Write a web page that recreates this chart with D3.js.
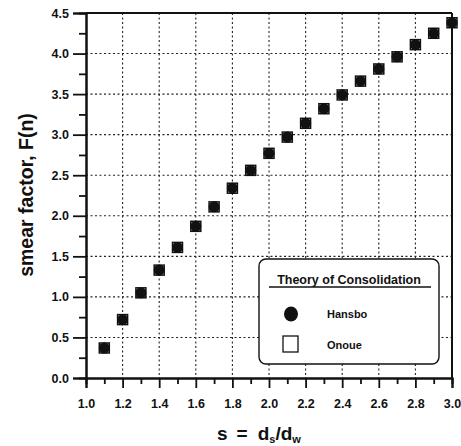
<!DOCTYPE html>
<html>
<head>
<meta charset="utf-8">
<script src="https://cdn.jsdelivr.net/npm/d3@7"></script>
<style>
  html, body { margin: 0; padding: 0; background: #fff; }
  svg { display: block; }
  text { font-family: "Liberation Sans", Arial, sans-serif; font-weight: bold; fill: #111; }
</style>
</head>
<body>
<svg id="chart" width="461" height="446"></svg>
<script>
// Ratio of smear zone to drain diameter, s = ds/dw
const sRatio = [1.1, 1.2, 1.3, 1.4, 1.5, 1.6, 1.7, 1.8, 1.9, 2.0,
                2.1, 2.2, 2.3, 2.4, 2.5, 2.6, 2.7, 2.8, 2.9, 3.0];
// Smear factor F(n) by Hansbo's theory
const hansbo = [0.37, 0.72, 1.05, 1.33, 1.61, 1.87, 2.11, 2.34, 2.56, 2.77,
                2.97, 3.14, 3.32, 3.49, 3.66, 3.81, 3.96, 4.11, 4.25, 4.38];
// Smear factor F(n) by Onoue's theory
const onoue = [0.37, 0.72, 1.05, 1.33, 1.61, 1.87, 2.11, 2.34, 2.56, 2.77,
               2.97, 3.14, 3.32, 3.49, 3.66, 3.81, 3.96, 4.11, 4.25, 4.38];

const xTicks = [1.0, 1.2, 1.4, 1.6, 1.8, 2.0, 2.2, 2.4, 2.6, 2.8, 3.0];
const xMinor = [1.1, 1.3, 1.5, 1.7, 1.9, 2.1, 2.3, 2.5, 2.7, 2.9];
const yTicks = [0.0, 0.5, 1.0, 1.5, 2.0, 2.5, 3.0, 3.5, 4.0, 4.5];
const yMinor = [0.25, 0.75, 1.25, 1.75, 2.25, 2.75, 3.25, 3.75, 4.25];

const svg = d3.select("#chart");
const plotL = 86, plotR = 452, plotT = 13, plotB = 378;

const x = d3.scaleLinear().domain([1.0, 3.0]).range([plotL, plotR]);
const y = d3.scaleLinear().domain([0, 4.5]).range([plotB, plotT]);

// dotted grid
const grid = svg.append("g").attr("stroke", "#222").attr("stroke-width", 1.1)
  .attr("stroke-dasharray", "2,2.5");
grid.selectAll("line.v").data(xTicks.slice(1, -1)).join("line")
  .attr("x1", d => x(d)).attr("x2", d => x(d)).attr("y1", plotT).attr("y2", plotB);
grid.selectAll("line.h").data(yTicks.slice(1, -1)).join("line")
  .attr("x1", plotL).attr("x2", plotR).attr("y1", d => y(d)).attr("y2", d => y(d));

// axes
const fmt = d3.format(".1f");
const xAxis = svg.append("g").attr("transform", `translate(0,${plotB})`)
  .call(d3.axisBottom(x).tickValues(xTicks).tickFormat(fmt).tickSize(10).tickPadding(11));
const xAxisMinor = svg.append("g").attr("transform", `translate(0,${plotB})`)
  .call(d3.axisBottom(x).tickValues(xMinor).tickFormat("").tickSize(6));
const yAxis = svg.append("g").attr("transform", `translate(${plotL},0)`)
  .call(d3.axisLeft(y).tickValues(yTicks).tickFormat(fmt).tickSize(13).tickPadding(4));
const yAxisMinor = svg.append("g").attr("transform", `translate(${plotL},0)`)
  .call(d3.axisLeft(y).tickValues(yMinor).tickFormat("").tickSize(7));

[xAxis, xAxisMinor, yAxis, yAxisMinor].forEach(g => {
  g.select(".domain").attr("stroke", "#111").attr("stroke-width", 2);
  g.selectAll(".tick line").attr("stroke", "#111").attr("stroke-width", 1.8);
  g.selectAll(".tick text").attr("font-size", 12.5).attr("fill", "#111")
    .attr("font-family", "Liberation Sans, Arial, sans-serif").attr("font-weight", "bold");
});

// top and right frame
svg.append("line").attr("x1", plotL).attr("x2", plotR).attr("y1", plotT).attr("y2", plotT)
  .attr("stroke", "#111").attr("stroke-width", 2);
svg.append("line").attr("x1", plotR).attr("x2", plotR).attr("y1", plotT).attr("y2", plotB)
  .attr("stroke", "#111").attr("stroke-width", 2);

// Onoue: open squares
const sq = 10;
svg.append("g").selectAll("rect").data(sRatio.map((s, i) => [s, onoue[i]])).join("rect")
  .attr("x", d => x(d[0]) - sq / 2).attr("y", d => y(d[1]) - sq / 2)
  .attr("width", sq).attr("height", sq)
  .attr("fill", "none").attr("stroke", "#111").attr("stroke-width", 1.5);

// Hansbo: filled circles
svg.append("g").selectAll("circle").data(sRatio.map((s, i) => [s, hansbo[i]])).join("circle")
  .attr("cx", d => x(d[0])).attr("cy", d => y(d[1])).attr("r", 5.5)
  .attr("fill", "#111");

// legend
const lg = svg.append("g");
lg.append("rect").attr("x", 259).attr("y", 259).attr("width", 180).attr("height", 105)
  .attr("rx", 7).attr("fill", "#fff").attr("stroke", "#111").attr("stroke-width", 1.4);
lg.append("text").attr("x", 349).attr("y", 284).attr("text-anchor", "middle")
  .attr("font-size", 12.5).text("Theory of Consolidation");
lg.append("line").attr("x1", 269).attr("x2", 431).attr("y1", 287).attr("y2", 287)
  .attr("stroke", "#111").attr("stroke-width", 1.3);
lg.append("ellipse").attr("cx", 291).attr("cy", 314).attr("rx", 7).attr("ry", 7.5).attr("fill", "#111");
lg.append("text").attr("x", 327).attr("y", 318).attr("font-size", 11).text("Hansbo");
lg.append("rect").attr("x", 283).attr("y", 336).attr("width", 15).attr("height", 16)
  .attr("fill", "#fff").attr("stroke", "#111").attr("stroke-width", 1.3);
lg.append("text").attr("x", 327).attr("y", 349).attr("font-size", 11).text("Onoue");

// axis titles
const xt = svg.append("text").attr("x", 217).attr("y", 440).attr("font-size", 19);
xt.append("tspan").text("s");
xt.append("tspan").attr("dx", 9).text("=");
xt.append("tspan").attr("dx", 10).text("d");
xt.append("tspan").attr("font-size", 11).attr("dy", 3).text("s");
xt.append("tspan").attr("dy", -3).text("/d");
xt.append("tspan").attr("font-size", 11).attr("dy", 3).text("w");

svg.append("text").attr("transform", "translate(33,195) rotate(-90)")
  .attr("text-anchor", "middle").attr("font-size", 19.5).text("smear factor,  F(n)");
</script>
</body>
</html>
